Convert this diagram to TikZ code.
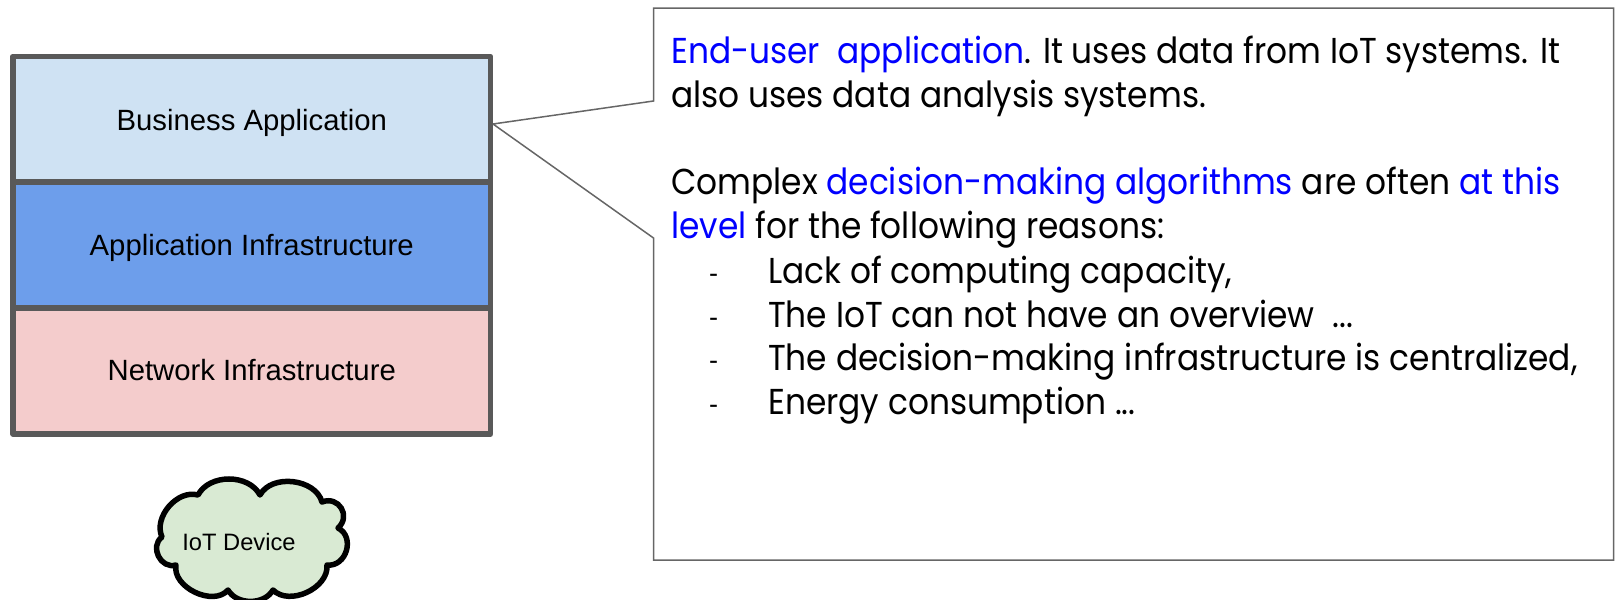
\documentclass[tikz,border=0pt]{standalone}
\usepackage{fontspec}
\setmainfont{Liberation Sans}
\newfontfamily\bodyfont[FakeStretch=0.912]{Poppins}
\definecolor{layerline}{HTML}{595959}
\definecolor{layerblue}{HTML}{CFE2F3}
\definecolor{layermid}{HTML}{6D9EEB}
\definecolor{layerpink}{HTML}{F4CCCC}
\definecolor{cloudgreen}{HTML}{D9EAD3}
\definecolor{calloutline}{HTML}{666666}
\definecolor{linkblue}{HTML}{0000FF}
\tikzset{
 layer/.style={draw=layerline,line width=5.5pt,line join=round,minimum width=477.5pt,minimum height=126pt,inner sep=0pt},
 layertext/.style={anchor=base,inner sep=0pt,font=\fontsize{29.3}{29.3}\selectfont,text=black},
 calloutedge/.style={draw=calloutline,line width=1.5pt,line join=miter},
 bodyline/.style={anchor=base west,inner sep=0pt,font=\bodyfont\fontsize{36}{36}\selectfont,text=black},
 dashmark/.style={anchor=base west,inner sep=0pt,font=\fontsize{27}{27}\selectfont,text=black},
}
\newcommand{\hl}[1]{\textcolor{linkblue}{#1}}
\begin{document}
\begin{tikzpicture}[x=1pt,y=-1pt]
\useasboundingbox (0,0) rectangle (1618,600);
% layers
\node[layer,fill=layerblue] (biz) at (251.75,119.3) {};
\node[layer,fill=layermid] (app) at (251.75,245.2) {};
\node[layer,fill=layerpink] (net) at (251.75,371.1) {};
\node[layertext] (bizt) at (251.75,130.3) {Business Application};
\node[layertext] (appt) at (251.75,255.3) {Application Infrastructure};
\node[layertext] (nett) at (251.75,380.7) {Network Infrastructure};
% callout
\coordinate (tip) at (493,124);
\coordinate (c1) at (653.5,101);
\coordinate (c2) at (653.5,8);
\coordinate (c3) at (1613.5,8);
\coordinate (c4) at (1613.5,560);
\coordinate (c5) at (653.5,560);
\coordinate (c6) at (653.5,238);
\path[calloutedge] (tip) -- (c1) -- (c2) -- (c3) -- (c4) -- (c5) -- (c6) -- (tip);
% text
\node[bodyline] (l1) at (671,63) {\hl{End-user\ \ application}. It uses data from IoT systems. It};
\node[bodyline] (l2) at (671,107.5) {also uses data analysis systems.};
\node[bodyline] (l3) at (671,194.5) {Complex \hl{decision-making algorithms} are often \hl{at this}};
\node[bodyline] (l4) at (671,238.5) {\hl{level} for the following reasons:};
\foreach \n/\yy/\tt in {a/283/{Lack of computing capacity,},b/327/{The IoT can not have an overview\ \ ...},c/370.5/{The decision-making infrastructure is centralized,},d/414.5/{Energy consumption ...}}{
 \node[dashmark] (d\n) at (709,\yy-1) {-};
 \node[bodyline] (t\n) at (768,\yy) {\tt};
}
% cloud
\draw[line width=5.5pt,fill=cloudgreen,line join=round]
 (198,495) to[bend left=62] (260,495) to[bend left=68] (322,502) to[bend left=80,looseness=1.5] (338,528)
 to[bend left=80,looseness=1.3] (327,565) to[bend left=70] (273,590) to[bend left=60] (228,590)
 to[bend left=75] (176,565) to[bend left=80,looseness=1.3] (162,537) to[bend left=65] (198,495) -- cycle;
\node[inner sep=0pt,anchor=base,font=\fontsize{23.7}{23.7}\selectfont] (iot) at (239,550) {IoT Device};
\end{tikzpicture}
\end{document}
